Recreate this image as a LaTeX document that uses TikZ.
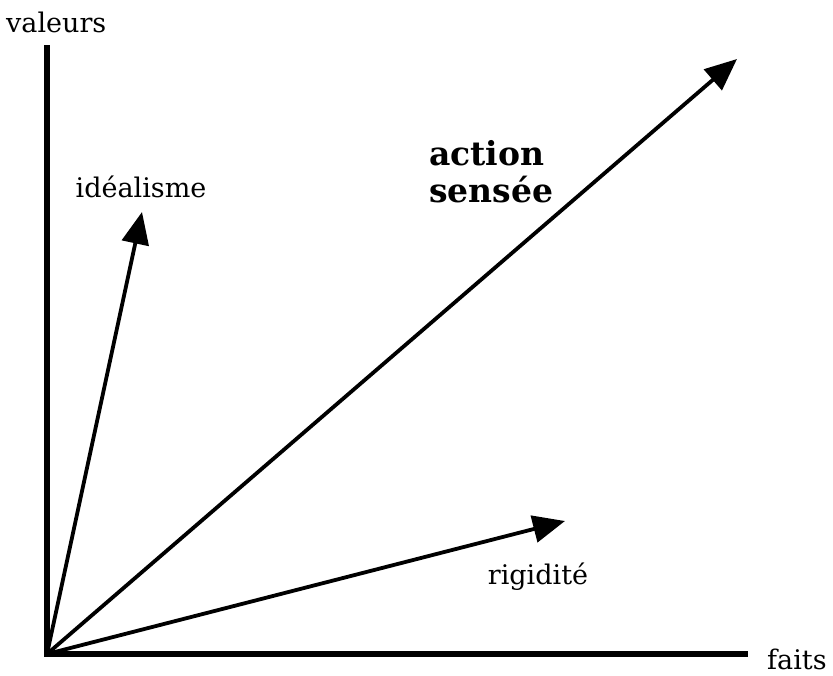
\documentclass[tikz,border=0pt]{standalone}
\usepackage{fontspec}
\setmainfont{DejaVu Serif}
\usetikzlibrary{arrows.meta}
\tikzset{
  axe/.style={line width=5.5pt, line cap=rect},
  vecteur/.style={line width=3.8pt, -{Triangle[length=32pt,width=27pt]}},
  etiquette/.style={font=\fontsize{27}{31}\selectfont, inner sep=0pt},
  gras/.style={font=\fontsize{33}{37}\selectfont\bfseries, inner sep=0pt, align=left}
}
\begin{document}
\begin{tikzpicture}[x=1pt, y=-1pt]
\useasboundingbox (0,0) rectangle (833,675);
\coordinate (orig) at (47,654);
\coordinate (haut) at (47,48);
\coordinate (droite) at (745,654);
\coordinate (tidea) at (142,212);
\coordinate (tact) at (737,59);
\coordinate (trig) at (565,521);
\draw[axe] (haut) -- (orig) -- (droite);
\draw[vecteur] (orig) -- (tidea);
\draw[vecteur] (orig) -- (tact);
\draw[vecteur] (orig) -- (trig);
\node[etiquette, anchor=base west] (valeurs) at (6,32){valeurs};
\node[etiquette, anchor=base west] (faits) at (767,669){faits};
\node[etiquette, anchor=base] (idea) at (141,197){idéalisme};
\node[etiquette, anchor=base] (rig) at (538,584){rigidité};
\node[gras, anchor=north west] (act) at (429,140){action\\sensée};
\end{tikzpicture}
\end{document}
